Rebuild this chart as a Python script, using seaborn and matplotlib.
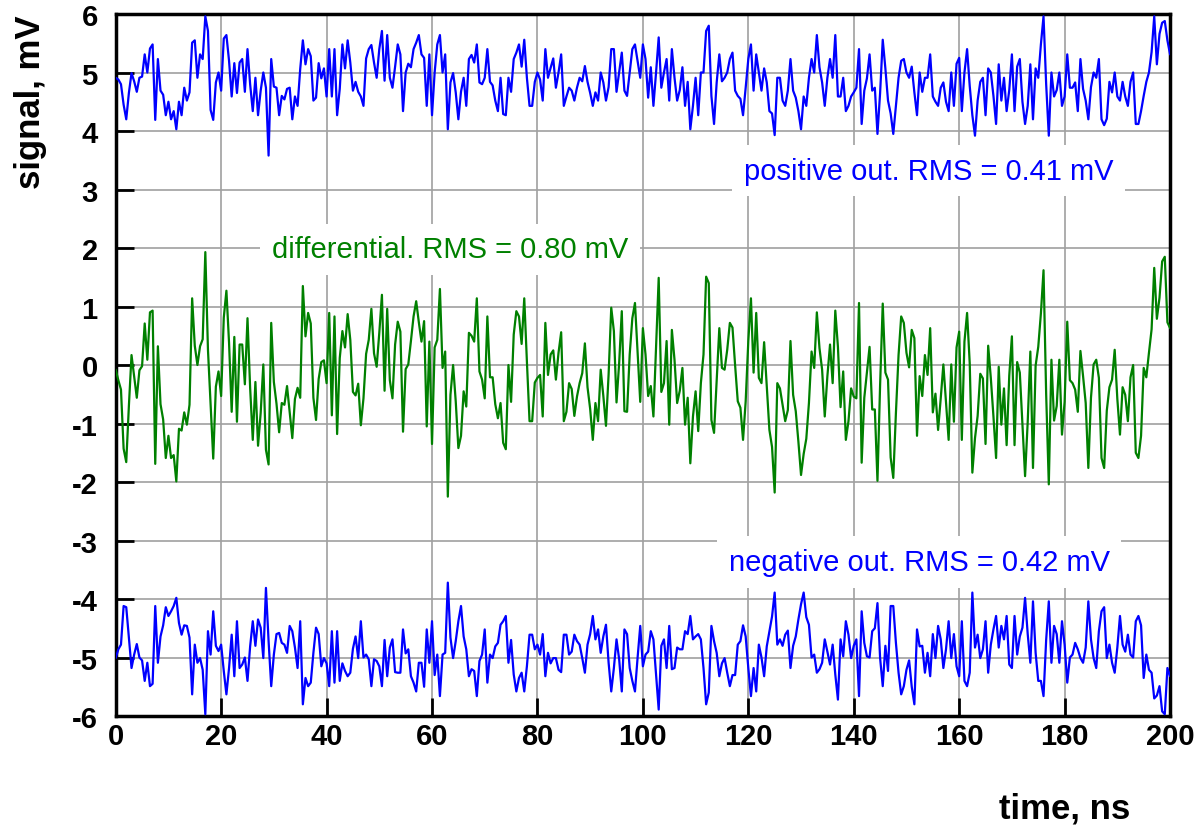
import numpy as np
import seaborn as sns
import matplotlib.pyplot as plt

# Сигналы, шаг 0.5 нс (0..200 нс)
# положительный выход (показан со сдвигом +5 мВ)
pos_out = [
    4.91, 4.88, 4.80, 4.45, 4.20, 4.65, 4.99, 4.85, 4.67, 4.91,
    4.93, 5.31, 5.00, 5.41, 5.48, 4.19, 5.23, 4.69, 4.62, 4.27,
    4.50, 4.20, 4.34, 4.03, 4.50, 4.27, 4.74, 4.52, 4.66, 5.51,
    5.55, 4.91, 5.31, 5.23, 5.96, 5.71, 4.36, 4.19, 4.83, 5.00,
    4.69, 5.58, 5.64, 5.20, 4.59, 5.16, 4.65, 5.17, 5.23, 4.67,
    5.40, 4.80, 4.34, 4.91, 4.27, 4.69, 5.00, 4.74, 3.58, 5.23,
    4.76, 4.74, 4.27, 4.60, 4.54, 4.72, 4.74, 4.20, 4.59, 4.43,
    5.06, 5.55, 5.14, 5.40, 5.28, 4.52, 4.57, 5.16, 4.90, 5.07,
    4.59, 5.40, 4.59, 5.40, 4.27, 4.72, 5.48, 5.07, 5.55, 5.17,
    4.69, 4.84, 4.67, 4.59, 4.43, 5.24, 5.40, 5.47, 5.17, 4.91,
    # 50 нс
    5.40, 5.71, 4.86, 5.64, 4.91, 4.74, 5.10, 5.48, 5.31, 4.34,
    5.00, 5.15, 5.09, 5.40, 5.51, 5.64, 5.31, 5.25, 4.43, 5.31,
    4.27, 5.00, 5.48, 5.64, 5.00, 5.31, 4.03, 4.83, 4.99, 4.66,
    4.20, 4.67, 4.91, 4.43, 5.23, 5.30, 5.17, 5.48, 4.83, 4.80,
    4.91, 5.40, 4.84, 4.78, 4.52, 4.34, 4.91, 4.29, 4.27, 4.91,
    4.67, 5.23, 5.34, 5.48, 5.10, 5.56, 4.91, 4.43, 4.43, 4.84,
    5.00, 4.88, 4.52, 5.40, 4.91, 5.08, 5.24, 4.74, 5.00, 5.31,
    4.43, 4.59, 4.74, 4.69, 4.52, 4.74, 4.91, 4.85, 5.11, 4.84,
    4.65, 4.43, 4.66, 4.52, 5.00, 4.83, 4.52, 4.75, 5.40, 5.40,
    4.67, 5.00, 5.34, 4.69, 4.60, 5.00, 5.40, 5.48, 5.20, 4.91,
    # 100 нс
    5.48, 5.23, 4.57, 5.09, 4.43, 5.00, 5.60, 4.74, 5.00, 5.23,
    4.52, 5.40, 4.91, 4.52, 4.70, 5.09, 4.43, 4.84, 4.03, 4.43,
    4.91, 4.27, 5.00, 5.00, 5.71, 5.80, 4.60, 4.12, 4.83, 5.31,
    4.85, 4.91, 5.00, 5.23, 5.34, 4.69, 4.60, 4.55, 4.27, 4.74,
    5.23, 5.48, 4.69, 5.31, 5.00, 4.69, 5.07, 4.83, 4.34, 4.30,
    3.93, 4.91, 4.91, 4.52, 4.43, 4.69, 5.23, 4.69, 4.57, 4.34,
    4.03, 4.59, 4.43, 4.91, 5.23, 5.00, 5.64, 5.09, 4.83, 4.43,
    4.91, 5.23, 4.91, 5.64, 4.59, 4.59, 4.91, 4.34, 4.43, 4.59,
    4.66, 4.74, 5.40, 4.12, 4.69, 4.90, 5.31, 4.69, 4.74, 3.95,
    4.65, 5.56, 5.07, 4.52, 4.30, 3.95, 4.43, 4.91, 5.20, 5.23,
    # 150 нс
    5.00, 4.91, 5.10, 4.66, 4.27, 5.00, 4.67, 4.91, 4.91, 5.31,
    4.59, 4.50, 4.43, 4.74, 4.83, 4.50, 4.34, 5.00, 4.43, 5.15,
    5.25, 4.34, 5.00, 5.40, 4.77, 4.27, 3.92, 4.52, 4.84, 4.91,
    4.27, 5.07, 5.00, 4.60, 4.12, 5.14, 4.52, 4.91, 4.34, 4.70,
    5.31, 4.34, 5.10, 5.23, 4.50, 4.12, 4.43, 5.14, 4.20, 5.07,
    4.91, 5.48, 5.96, 4.80, 3.92, 5.00, 4.59, 4.70, 5.00, 4.43,
    4.59, 5.31, 4.74, 4.74, 4.83, 4.34, 5.23, 4.72, 4.52, 4.20,
    4.75, 5.00, 4.91, 5.23, 4.20, 4.10, 4.21, 4.84, 4.66, 5.00,
    4.59, 4.52, 4.84, 4.59, 4.43, 4.84, 5.00, 4.12, 4.12, 4.34,
    4.60, 4.84, 5.00, 5.35, 5.96, 5.14, 5.66, 5.85, 5.88, 5.55,
    5.31,
]

# отрицательный выход (показан со сдвигом -5 мВ)
neg_out = [
    -5.01, -4.86, -4.78, -4.12, -4.14, -4.65, -5.18, -4.95, -4.77, -5.00,
    -5.05, -5.40, -5.09, -5.49, -5.45, -4.12, -5.09, -4.64, -4.45, -4.14,
    -4.29, -4.21, -4.12, -3.98, -4.41, -4.61, -4.45, -4.46, -4.66, -5.63,
    -4.78, -5.09, -5.01, -5.21, -5.97, -4.55, -4.95, -4.21, -4.80, -4.89,
    -4.78, -5.23, -5.63, -5.18, -4.61, -5.32, -4.38, -5.18, -5.12, -5.00,
    -5.40, -4.81, -4.38, -4.80, -4.35, -4.49, -5.01, -3.81, -4.72, -5.49,
    -4.95, -4.60, -4.58, -4.75, -4.78, -4.92, -4.46, -4.55, -4.83, -5.18,
    -4.38, -5.80, -5.35, -5.49, -5.43, -4.92, -4.49, -4.60, -5.15, -5.01,
    -5.10, -5.49, -4.55, -5.43, -4.55, -5.40, -5.10, -5.23, -5.32, -5.26,
    -4.85, -4.64, -5.01, -4.38, -5.00, -4.95, -5.03, -5.49, -5.03, -5.06,
    # 50 нс
    -5.15, -5.49, -4.70, -5.32, -4.83, -4.69, -5.25, -5.26, -5.26, -4.52,
    -4.93, -4.86, -5.32, -5.43, -5.58, -5.09, -5.09, -5.50, -4.52, -5.09,
    -4.38, -5.30, -4.95, -5.66, -4.95, -4.92, -3.72, -4.66, -5.01, -4.72,
    -4.38, -4.12, -4.64, -4.86, -5.32, -5.20, -5.23, -5.66, -5.06, -4.95,
    -4.52, -5.43, -4.95, -5.01, -4.81, -4.75, -4.44, -4.38, -4.29, -5.09,
    -4.70, -5.29, -5.58, -5.35, -5.26, -5.58, -5.15, -4.61, -4.61, -4.86,
    -4.78, -4.95, -4.60, -5.32, -4.92, -5.10, -5.01, -5.01, -5.21, -5.25,
    -4.61, -4.61, -4.95, -4.90, -4.61, -4.72, -4.78, -5.01, -5.26, -4.78,
    -4.60, -4.29, -4.69, -4.52, -4.92, -4.64, -4.44, -5.09, -5.58, -5.18,
    -4.69, -5.03, -5.58, -4.52, -4.60, -5.18, -5.40, -5.58, -5.00, -4.46,
    # 100 нс
    -5.15, -4.95, -4.90, -4.55, -4.69, -5.30, -5.89, -4.80, -4.69, -5.18,
    -4.46, -5.20, -5.18, -4.83, -4.86, -4.86, -4.55, -4.60, -4.29, -4.69,
    -4.64, -4.60, -4.69, -5.18, -5.80, -5.60, -4.46, -4.72, -4.92, -5.32,
    -5.10, -5.01, -5.26, -5.49, -5.30, -5.30, -4.78, -4.72, -4.45, -4.64,
    -5.18, -5.66, -5.18, -5.58, -4.78, -5.00, -5.32, -4.81, -4.55, -4.30,
    -3.89, -4.78, -4.69, -4.80, -4.61, -4.54, -5.18, -4.80, -4.64, -4.35,
    -4.09, -3.89, -4.31, -4.44, -5.00, -4.95, -5.26, -5.20, -5.09, -4.69,
    -4.90, -5.12, -4.78, -5.29, -5.72, -4.69, -4.98, -4.38, -4.61, -5.01,
    -4.80, -4.69, -5.66, -4.21, -4.75, -4.98, -5.00, -4.55, -4.50, -4.07,
    -5.01, -5.49, -4.80, -5.23, -4.12, -4.12, -4.75, -5.26, -5.63, -5.49,
    # 150 нс
    -5.21, -5.05, -5.50, -5.80, -4.52, -4.81, -4.80, -5.26, -4.92, -5.32,
    -4.60, -5.01, -4.46, -4.69, -5.18, -4.86, -4.38, -5.01, -4.60, -5.15,
    -5.32, -4.38, -5.40, -5.49, -5.26, -3.89, -4.83, -4.61, -5.01, -4.86,
    -4.38, -5.26, -4.78, -4.52, -4.29, -4.83, -4.46, -4.69, -4.29, -5.12,
    -5.18, -4.29, -4.95, -4.64, -4.49, -3.98, -4.60, -5.09, -4.04, -4.92,
    -5.40, -5.40, -5.66, -4.70, -4.04, -5.09, -4.46, -4.60, -5.09, -4.38,
    -4.78, -5.43, -5.00, -4.95, -4.75, -4.86, -5.01, -5.09, -4.83, -4.04,
    -4.69, -5.01, -5.18, -4.55, -4.21, -4.14, -5.01, -4.78, -5.09, -5.26,
    -4.83, -4.29, -4.78, -4.90, -4.61, -4.95, -5.00, -4.38, -4.29, -4.45,
    -5.35, -4.95, -5.21, -5.26, -5.70, -5.65, -5.49, -5.92, -5.97, -5.18,
    -5.32,
]

dt_ns = 0.5
offset_mv = 5.0
labels = ['positive out. RMS = 0.41 mV',
          'differential. RMS = 0.80 mV',
          'negative out. RMS = 0.42 mV']

pos_out = np.array(pos_out)
neg_out = np.array(neg_out)
t_ns = np.arange(len(pos_out)) * dt_ns
# дифференциальный сигнал = pos - neg (без сдвигов)
diff_out = (pos_out - offset_mv) - (neg_out + offset_mv)

sns.set_style('white')
plt.rcParams['font.family'] = ['Liberation Sans', 'DejaVu Sans']
plt.rcParams['axes.unicode_minus'] = False
plt.rcParams['text.color'] = 'black'
plt.rcParams['axes.labelcolor'] = 'black'

fig = plt.figure(figsize=(12.04, 8.29), dpi=100)
ax = fig.add_axes([0.0961, 0.1351, 0.8757, 0.8468])

sns.lineplot(x=t_ns, y=pos_out, color='#0000ff', lw=1.6, ax=ax, zorder=3)
sns.lineplot(x=t_ns, y=diff_out, color='#008000', lw=1.6, ax=ax, zorder=3)
sns.lineplot(x=t_ns, y=neg_out, color='#0000ff', lw=1.6, ax=ax, zorder=3)

ax.set_xlim(0, 200)
ax.set_ylim(-6, 6)
ax.set_xticks(range(0, 201, 20))
ax.set_yticks(range(-6, 7))
ax.set_axisbelow(True)
ax.grid(True, color='#a0a0a0', lw=1.2)

for s in ax.spines.values():
    s.set_color('black')
    s.set_linewidth(2.5)

ax.tick_params(direction='in', length=13, width=2, labelsize=21,
               colors='black', left=True, bottom=True, top=False, right=False)
ax.tick_params(axis='x', pad=4)
ax.tick_params(axis='y', pad=13)
plt.setp(ax.get_xticklabels() + ax.get_yticklabels(), fontweight='bold')

ax.set_ylabel('signal, mV', fontsize=25, fontweight='bold', loc='top')
ax.yaxis.set_label_coords(-0.065, 1.0)
ax.set_xlabel('time, ns', fontsize=25, fontweight='bold', loc='right')
ax.xaxis.set_label_coords(0.962, -0.108)

# подписи с белым фоном поверх сетки
box = dict(boxstyle='square,pad=0.4', fc='white', ec='none')
ax.text(154.2, 3.32, labels[0], color='#0000ff', fontsize=21,
        ha='center', va='center', bbox=box, zorder=2)
ax.text(63.4, 1.98, labels[1], color='#008000', fontsize=21,
        ha='center', va='center', bbox=box, zorder=2)
ax.text(152.4, -3.37, labels[2], color='#0000ff', fontsize=21,
        ha='center', va='center', bbox=box, zorder=2)

fig.savefig('out.png', dpi=100)
